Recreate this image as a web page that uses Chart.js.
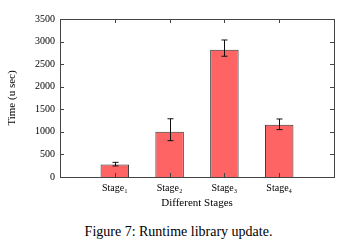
<!DOCTYPE html>
<html>
<head>
<meta charset="utf-8">
<script src="https://cdn.jsdelivr.net/npm/chart.js@4/dist/chart.umd.min.js"></script>
<style>
  html, body { margin: 0; padding: 0; background: #fff; }
  #wrap { position: relative; width: 357px; height: 212px; }
  #caption {
    font-family: 'Liberation Serif', 'DejaVu Serif', serif;
    font-size: 14px;
    color: #000;
    text-align: center;
    width: 357px;
    margin-top: 12px;
  }
</style>
</head>
<body>
<div id="wrap"><canvas id="chart" width="357" height="212"></canvas></div>
<div id="caption">Figure 7: Runtime library update.</div>
<script>
// data
const stageNames = ['Stage\u2081', 'Stage\u2082', 'Stage\u2083', 'Stage\u2084']
const times = [275, 1000, 2820, 1160]
const errLow = [245, 805, 2675, 1050]
const errHigh = [325, 1290, 3035, 1285]
const yTicks = [0, 500, 1000, 1500, 2000, 2500, 3000, 3500]

// one empty slot each side so the stages sit at 1..4 on a 0..5 axis
const pad = (arr) => [null, ...arr, null]
const labels = ['', ...stageNames, '']

const serif = "'Liberation Serif', 'DejaVu Serif', serif"
const axisColor = '#444'

// error bars, drawn from the scales
const errorBars = {
  id: 'errorBars',
  afterDatasetsDraw(chart) {
    const { ctx, scales } = chart
    const meta = chart.getDatasetMeta(0)
    const lo = pad(errLow)
    const hi = pad(errHigh)
    ctx.save()
    ctx.strokeStyle = '#111'
    ctx.lineWidth = 1
    meta.data.forEach((bar, i) => {
      if (lo[i] == null) return
      const x = Math.round(bar.x) + 0.5
      const y1 = scales.y.getPixelForValue(lo[i])
      const y2 = scales.y.getPixelForValue(hi[i])
      ctx.beginPath()
      ctx.moveTo(x, y1); ctx.lineTo(x, y2)
      ctx.moveTo(x - 3, y1); ctx.lineTo(x + 3, y1)
      ctx.moveTo(x - 3, y2); ctx.lineTo(x + 3, y2)
      ctx.stroke()
    })
    ctx.restore()
  },
}

// gnuplot-style frame with inward ticks on all sides
const frame = {
  id: 'frame',
  afterDraw(chart) {
    const { ctx, chartArea: a, scales } = chart
    const t = 4
    ctx.save()
    ctx.strokeStyle = axisColor
    ctx.lineWidth = 1
    ctx.strokeRect(Math.round(a.left) + 0.5, Math.round(a.top) + 0.5,
      Math.round(a.right - a.left), Math.round(a.bottom - a.top))
    ctx.beginPath()
    yTicks.forEach((v) => {
      const y = Math.round(scales.y.getPixelForValue(v)) + 0.5
      ctx.moveTo(a.left, y); ctx.lineTo(a.left + t, y)
      ctx.moveTo(a.right, y); ctx.lineTo(a.right - t, y)
    })
    stageNames.forEach((s, i) => {
      const x = Math.round(scales.x.getPixelForValue(i + 1)) + 0.5
      ctx.moveTo(x, a.bottom); ctx.lineTo(x, a.bottom - t)
      ctx.moveTo(x, a.top); ctx.lineTo(x, a.top + t)
    })
    ctx.stroke()
    ctx.restore()
  },
}

new Chart(document.getElementById('chart').getContext('2d'), {
  type: 'bar',
  data: {
    labels,
    datasets: [
      {
        label: 'Time',
        data: pad(times),
        backgroundColor: '#ff6464',
        borderColor: '#333',
        borderWidth: 1,
        barPercentage: 0.52,
        categoryPercentage: 1,
      },
    ],
  },
  options: {
    responsive: false,
    animation: false,
    layout: { padding: { top: 19, right: 23, left: 2, bottom: 0 } },
    plugins: {
      legend: { display: false },
      tooltip: { enabled: false },
    },
    scales: {
      x: {
        offset: false,
        grid: { display: false, drawTicks: false },
        border: { display: false },
        ticks: {
          color: '#000',
          font: { family: serif, size: 10 },
          padding: 5,
          maxRotation: 0,
          autoSkip: false,
        },
        title: {
          display: true,
          text: 'Different Stages',
          color: '#000',
          font: { family: serif, size: 11 },
          padding: { top: 0, bottom: 2 },
        },
        afterFit: (s) => { s.height = 35 },
      },
      y: {
        min: 0,
        max: 3500,
        grid: { display: false, drawTicks: false },
        border: { display: false },
        ticks: {
          stepSize: 500,
          color: '#000',
          font: { family: serif, size: 10 },
          padding: 5,
          callback: (v) => String(v),
        },
        title: {
          display: true,
          text: 'Time (u sec)',
          color: '#000',
          font: { family: serif, size: 11 },
          padding: { top: 4, bottom: 0 },
        },
        afterFit: (s) => { s.width = 58 },
      },
    },
  },
  plugins: [errorBars, frame],
})
</script>
</body>
</html>
